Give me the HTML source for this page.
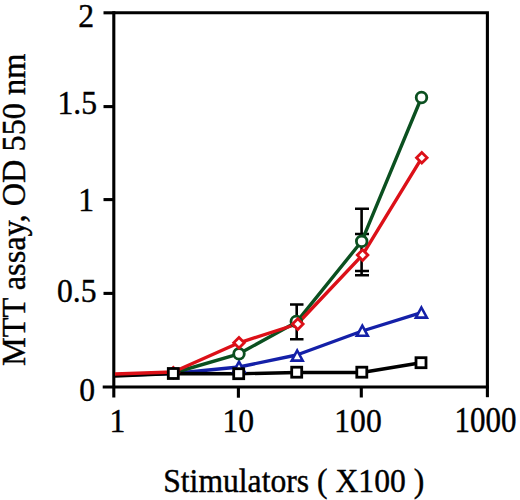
<!DOCTYPE html>
<html><head><meta charset="utf-8">
<style>
html,body{margin:0;padding:0;background:#fff;width:520px;height:500px;overflow:hidden}
svg{display:block}
text{font-family:"Liberation Serif",serif;font-size:33.5px;fill:#000;stroke:#000;stroke-width:0.4}
</style></head>
<body>
<svg width="520" height="500" viewBox="0 0 520 500">
<g stroke="#000" stroke-width="3.1" fill="none" stroke-linecap="butt">
<path d="M114 12.8 H487.4 V387"/>
<path d="M113.8 11.3 V397.5"/>
<path d="M102.7 387 H488.9"/>
<path d="M487.4 387 V397.2"/>
<path d="M238.4 387 V397.7"/>
<path d="M361.3 387 V397.5"/>
<path d="M103.5 12.8 H114"/>
<path d="M103.5 106.6 H114"/>
<path d="M103.5 199.6 H114"/>
<path d="M103.5 293.4 H114"/>
</g>
<g class="t" text-anchor="end">
<text transform="translate(94,27) scale(0.945,1.035)">2</text>
<text transform="translate(97,114) scale(0.945,1.035)">1.5</text>
<text transform="translate(94,211) scale(0.945,1.035)">1</text>
<text transform="translate(96.5,301.5) scale(0.945,1.035)">0.5</text>
<text transform="translate(95,400.5) scale(0.945,1.035)">0</text>
</g>
<g class="t" text-anchor="middle">
<text transform="translate(117.5,432) scale(0.945,1.035)">1</text>
<text transform="translate(238.2,432) scale(0.945,1.035)">10</text>
<text transform="translate(358,432) scale(0.945,1.035)">100</text>
<text transform="translate(485.5,432) scale(0.925,1.04)">1000</text>
</g>
<text class="t" transform="translate(163.2,492) scale(0.945,1.035)">Stimulators ( X100 )</text>
<text class="t" transform="translate(25,366) rotate(-90) scale(0.965,1)">MTT assay, OD 550 nm</text>
<g stroke="#000" stroke-width="2.6" fill="none">
<path d="M296.7 304.5 V339.2 M290 304.5 H303.5 M290 339.2 H303.5"/>
<path d="M361.6 208.8 V275 M355 208.8 H369 M355 234 H369 M355 271 H369 M355 275.2 H369"/>
</g>
<g fill="none" stroke-width="3.4" stroke-linejoin="round">
<polyline stroke="#1420a8" points="115,375.2 173.3,373.5 239,367 296.7,355 362.3,331 421.4,312.7"/>
<polyline stroke="#0b5020" points="115,374.8 173.3,373 239,353.8 296.7,321.9 361.7,241.3 421.5,97.5"/>
<polyline stroke="#000" points="115,376 173.3,373.5 238.7,373.8 296.7,372.5 361.8,372.5 421,362.7"/>
<polyline stroke="#dc1018" points="115,374 173.3,372 239,342.8 297.3,324 362.4,255.1 421.8,157.8"/>
</g>
<g stroke="#1420a8" stroke-width="2.6" fill="#fff"><path d="M239 361.7 L244.5 371.8 H233.5 Z"/><path d="M297.2 350.5 L302.7 360.6 H291.7 Z"/><path d="M362.3 325.7 L367.8 335.8 H356.8 Z"/><path d="M421.4 307.5 L426.9 317.6 H415.9 Z"/></g>
<g stroke="#0b5020" stroke-width="2.8" fill="#fff"><circle cx="239" cy="353.8" r="5.3"/><circle cx="296.3" cy="321.5" r="5.3"/><circle cx="361.7" cy="241.3" r="5.3"/><circle cx="421.5" cy="97.5" r="5.3"/></g>
<g stroke="#dc1018" stroke-width="2.8" fill="#fff"><path d="M173.3 367.5 L178.6 372.8 L173.3 378.1 L168.0 372.8 Z"/><path d="M239 337.5 L244.3 342.8 L239 348.1 L233.7 342.8 Z"/><path d="M297.8 318.8 L303.1 324.1 L297.8 329.4 L292.5 324.1 Z"/><path d="M362.6 249.8 L367.9 255.1 L362.6 260.4 L357.3 255.1 Z"/><path d="M421.8 152.5 L427.1 157.8 L421.8 163.1 L416.5 157.8 Z"/></g>
<g stroke="#000" stroke-width="2.8" fill="#fff"><rect x="168.3" y="368.5" width="10" height="10"/><rect x="233.7" y="368.7" width="10" height="10"/><rect x="291.7" y="367.2" width="10" height="10"/><rect x="356.8" y="367.2" width="10" height="10"/><rect x="416.0" y="357.7" width="10" height="10"/></g>
</svg>
</body></html>
